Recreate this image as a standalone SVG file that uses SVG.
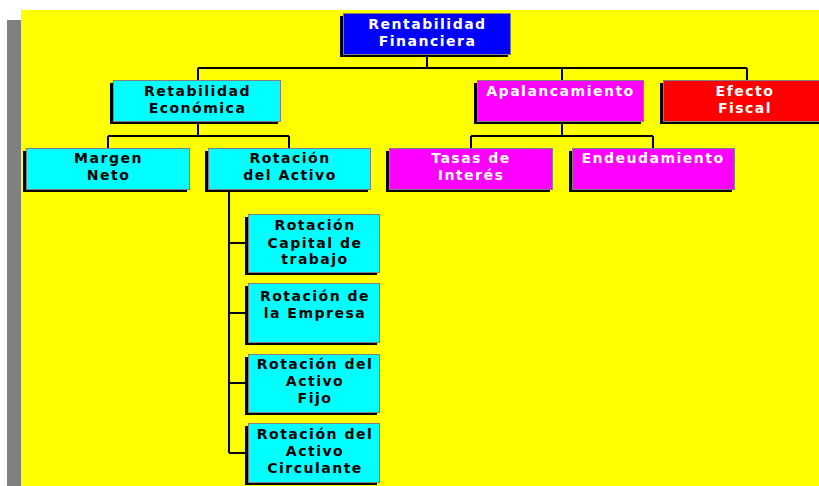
<svg xmlns="http://www.w3.org/2000/svg" width="819" height="486" viewBox="0 0 819 486">
<style>
text{font-family:"DejaVu Sans","Liberation Sans",Arial,sans-serif;font-weight:bold;font-size:14px;letter-spacing:1.5px;text-anchor:middle}
.dk{fill:#000}
.wt{fill:#fff}
.sh{fill:#000}
.bx{stroke:#808080;stroke-width:1}
.cy{fill:#00FFFF}
.mg{fill:#FF00FF}
.rd{fill:#FF0000}
.bl{fill:#0000FF}
.ln{stroke:#000;stroke-width:2;fill:none}
</style>
<rect x="0" y="0" width="819" height="486" fill="#fff"/>
<rect x="7" y="20" width="14" height="466" fill="#808080"/>
<rect x="21" y="10" width="798" height="476" fill="#FFFF00"/>
<g id="connectors">
<path class="ln" d="M427 55V68M198 68H747M198 68V80M562 68V80M747 68V80"/>
<path class="ln" d="M198 122V136M108 136H289M108 136V148M289 136V148"/>
<path class="ln" d="M562 122V136M471 136H653M471 136V148M653 136V148"/>
<path class="ln" d="M229 190V453M229 243H247M229 313H247M229 383H247M229 453H247"/>
</g>
<g id="n-rentabilidad-financiera">
<rect class="sh" x="340" y="16" width="168" height="41"/>
<rect class="bx bl" x="343.5" y="13.5" width="167" height="41"/>
<text class="wt" x="427.5" y="29">Rentabilidad</text>
<text class="wt" x="427.5" y="46">Financiera</text>
</g>
<g id="n-retabilidad-economica">
<rect class="sh" x="110" y="83" width="168" height="41"/>
<rect class="bx cy" x="113.5" y="80.5" width="167" height="41"/>
<text class="dk" x="197.5" y="96">Retabilidad</text>
<text class="dk" x="197.5" y="113">Económica</text>
</g>
<g id="n-apalancamiento">
<rect class="sh" x="474" y="83" width="167" height="41"/>
<rect class="bx mg" x="477.5" y="80.5" width="166" height="41"/>
<text class="wt" x="560.5" y="96">Apalancamiento</text>
</g>
<g id="n-efecto-fiscal">
<rect class="sh" x="660" y="83" width="165" height="41"/>
<rect class="bx rd" x="663.5" y="80.5" width="164" height="41"/>
<text class="wt" x="745" y="96">Efecto</text>
<text class="wt" x="745" y="113">Fiscal</text>
</g>
<g id="n-margen-neto">
<rect class="sh" x="23" y="151" width="164" height="41"/>
<rect class="bx cy" x="26.5" y="148.5" width="163" height="41"/>
<text class="dk" x="108.5" y="163">Margen</text>
<text class="dk" x="108.5" y="180">Neto</text>
</g>
<g id="n-rotacion-activo">
<rect class="sh" x="205" y="151" width="163" height="41"/>
<rect class="bx cy" x="208.5" y="148.5" width="162" height="41"/>
<text class="dk" x="290" y="163">Rotación</text>
<text class="dk" x="290" y="180">del Activo</text>
</g>
<g id="n-tasas-interes">
<rect class="sh" x="386" y="151" width="164" height="41"/>
<rect class="bx mg" x="389.5" y="148.5" width="163" height="41"/>
<text class="wt" x="471" y="163">Tasas de</text>
<text class="wt" x="471" y="180">Interés</text>
</g>
<g id="n-endeudamiento">
<rect class="sh" x="569" y="151" width="163" height="41"/>
<rect class="bx mg" x="572.5" y="148.5" width="162" height="41"/>
<text class="wt" x="653" y="163">Endeudamiento</text>
</g>
<g id="n-rot-capital-trabajo">
<rect class="sh" x="245" y="217" width="132" height="58"/>
<rect class="bx cy" x="248.5" y="214.5" width="131" height="58"/>
<text class="dk" x="315" y="230">Rotación</text>
<text class="dk" x="315" y="248">Capital de</text>
<text class="dk" x="315" y="264">trabajo</text>
</g>
<g id="n-rot-empresa">
<rect class="sh" x="245" y="286" width="132" height="59"/>
<rect class="bx cy" x="248.5" y="283.5" width="131" height="59"/>
<text class="dk" x="315" y="301">Rotación de</text>
<text class="dk" x="315" y="318">la Empresa</text>
</g>
<g id="n-rot-activo-fijo">
<rect class="sh" x="245" y="357" width="132" height="58"/>
<rect class="bx cy" x="248.5" y="354.5" width="131" height="58"/>
<text class="dk" x="315" y="369">Rotación del</text>
<text class="dk" x="315" y="386">Activo</text>
<text class="dk" x="315" y="403">Fijo</text>
</g>
<g id="n-rot-activo-circulante">
<rect class="sh" x="245" y="426" width="132" height="59"/>
<rect class="bx cy" x="248.5" y="423.5" width="131" height="59"/>
<text class="dk" x="315" y="439">Rotación del</text>
<text class="dk" x="315" y="456">Activo</text>
<text class="dk" x="315" y="473">Circulante</text>
</g>
</svg>
